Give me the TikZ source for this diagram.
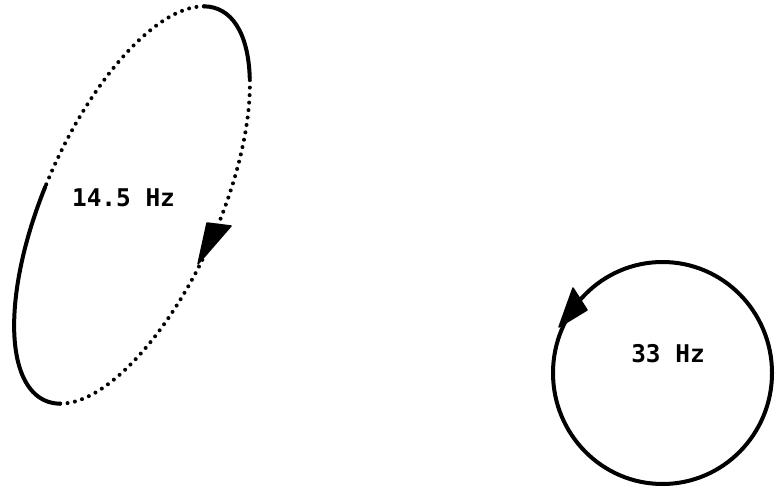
\documentclass[tikz,border=0pt]{standalone}
\usepackage{fontspec}
\newfontfamily\labelfont{DejaVu Sans Mono}
\begin{document}
\begin{tikzpicture}[x=1pt,y=1pt,
  solidline/.style={line width=4pt,line cap=round},
  dotline/.style={line width=4pt,line cap=round,dash pattern=on 0pt off 7.5pt},
  lbl/.style={font=\labelfont\bfseries\fontsize{24.4}{26}\selectfont,inner sep=0pt},
  head/.style={fill=black,draw=black,line width=1.5pt,line join=round}]
\useasboundingbox (0,0) rectangle (775,488);
% left ellipse
\begin{scope}[shift={(132,283)},rotate=66]
  \draw[solidline] (-40:214pt and 87pt) arc[start angle=-40,end angle=10,x radius=214pt,y radius=87pt];
  \draw[dotline] (10:214pt and 87pt) arc[start angle=10,end angle=95,x radius=214pt,y radius=87pt];
  \draw[solidline] (95:214pt and 87pt) arc[start angle=95,end angle=190,x radius=214pt,y radius=87pt];
  \draw[dotline] (190:214pt and 87pt) arc[start angle=190,end angle=320,x radius=214pt,y radius=87pt];
\end{scope}
\coordinate (la) at (198,224);
\coordinate (lb) at (231,262);
\coordinate (lc) at (207,265);
\fill[head] (la) -- (lb) -- (lc) -- cycle;
\node[lbl] (f1) at (123.5,290) {14.5 Hz};
% right circle
\draw[line width=4pt] (662.5,115) ellipse[x radius=109.5pt,y radius=111pt];
\coordinate (ra) at (573,200);
\coordinate (rb) at (587,178);
\coordinate (rc) at (559,161);
\fill[head] (ra) -- (rb) -- (rc) -- cycle;
\node[lbl] (f2) at (668,134) {33 Hz};
\end{tikzpicture}
\end{document}
